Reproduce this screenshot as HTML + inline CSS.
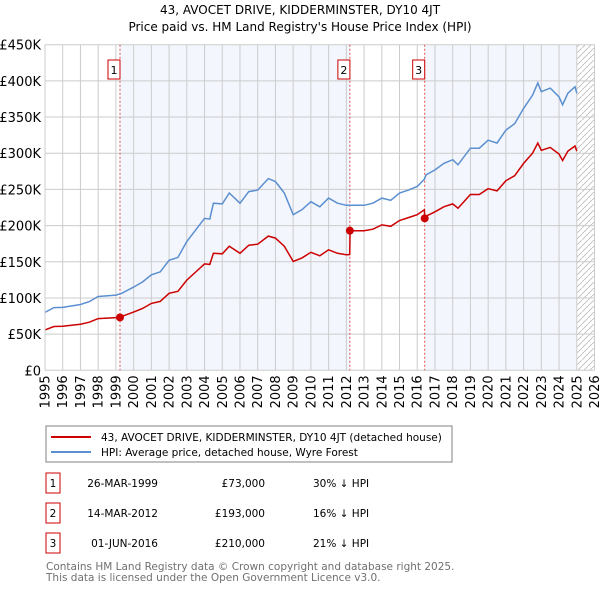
<!DOCTYPE html>
<html><head><meta charset="utf-8"><style>
body{margin:0;background:#fff;font-family:"DejaVu Sans","Liberation Sans",sans-serif;}
svg text{font-family:"DejaVu Sans","Liberation Sans",sans-serif;}
</style></head><body>
<svg id="chart" width="600" height="590" xmlns="http://www.w3.org/2000/svg">
<text x="300" y="14" text-anchor="middle" font-size="12" fill="#000">43, AVOCET DRIVE, KIDDERMINSTER, DY10 4JT</text>
<text x="300" y="31" text-anchor="middle" font-size="12" fill="#000">Price paid vs. HM Land Registry's House Price Index (HPI)</text>
<g id="plot"></g>
<g>
<rect x="46" y="426" width="406" height="36" fill="#fff" stroke="#808080"/>
<line x1="51" y1="437" x2="91" y2="437" stroke="#cc0000" stroke-width="2"/>
<text x="101" y="441" font-size="10.5">43, AVOCET DRIVE, KIDDERMINSTER, DY10 4JT (detached house)</text>
<line x1="51" y1="452" x2="91" y2="452" stroke="#5b8fd0" stroke-width="2"/>
<text x="101" y="456" font-size="10.5">HPI: Average price, detached house, Wyre Forest</text>
</g>
<g id="table"></g>
<text x="46" y="570" font-size="10.5" fill="#707070">Contains HM Land Registry data © Crown copyright and database right 2025.</text>
<text x="46" y="581" font-size="10.5" fill="#707070">This data is licensed under the Open Government Licence v3.0.</text>
</svg>
<script>
const dates=[1995,1995.5,1996,1997,1997.5,1998,1999,1999.3,2000,2000.5,2001,2001.5,2002,2002.5,2003,2003.5,2004,2004.3,2004.5,2005,2005.4,2006,2006.5,2007,2007.6,2008,2008.5,2009,2009.5,2010,2010.5,2011,2011.5,2012,2012.19,2012.21,2012.5,2013,2013.5,2014,2014.5,2015,2015.5,2016,2016.4,2016.43,2016.5,2017,2017.5,2018,2018.3,2019,2019.5,2020,2020.5,2021,2021.5,2022,2022.5,2022.8,2023,2023.5,2024,2024.2,2024.5,2024.9,2025];
const hpi=[80,86.6,87,91,95,102,104,106,115,122,132,136,152,156,178,194,210,209,231,230,245,231,247,249,265,261,245,215,222,233,226,238,231,228,228,228,228,228,231,238,235,245,249,254,264,266,270,277,286,291,284,307,307,318,314,332,341,362,380,397,385,390,378,367,383,392,383];
const price=[55.8,60.6,60.9,63.7,66.5,71.4,72.8,74.2,80.5,85.4,92.4,95.2,106.4,109.2,124.6,135.8,147,146.3,161.7,161,171.5,161.7,172.9,174.3,185.5,182.7,171.5,150.5,155.4,163.1,158.2,166.6,161.7,159.6,160,193,193,193,195,201,199,207,211,215,222,210,213,219,226,230,224,243,243,251,248,262,269,286,300,314,304,308,299,290,303,310,303];
const saleNums=["1","2","3"];
const saleDates=[1999.23,2012.2,2016.42];
const salePrices=[73,193,210];
const saleDateLabels=["26-MAR-1999","14-MAR-2012","01-JUN-2016"];
const salePriceLabels=["£73,000","£193,000","£210,000"];
const saleHpiLabels=["30% ↓ HPI","16% ↓ HPI","21% ↓ HPI"];
const yTicks=[0,50,100,150,200,250,300,350,400,450];
const yTickLabels=["£0","£50K","£100K","£150K","£200K","£250K","£300K","£350K","£400K","£450K"];
const xYears=[1995,1996,1997,1998,1999,2000,2001,2002,2003,2004,2005,2006,2007,2008,2009,2010,2011,2012,2013,2014,2015,2016,2017,2018,2019,2020,2021,2022,2023,2024,2025,2026];

const NS="http://www.w3.org/2000/svg";
const L=45,R=594.5,T=44.7,B=370.3;
const x=v=>L+(v-1995)/(2026-1995)*(R-L);
const y=v=>B-v/450*(B-T);
const plot=document.getElementById('plot');
function mk(tag,attrs,parent){const e=document.createElementNS(NS,tag);for(const k in attrs)e.setAttribute(k,attrs[k]);(parent||plot).appendChild(e);return e;}

let e=mk('rect',{x:x(saleDates[0]),y:T,width:x(saleDates[1])-x(saleDates[0]),height:B-T,fill:'#f3f6fd'});


e=mk('rect',{x:x(saleDates[2]),y:T,width:x(2025)-x(saleDates[2]),height:B-T,fill:'#f3f6fd'});


const defs=mk('defs',{});
const pat=mk('pattern',{id:'hatch',patternUnits:'userSpaceOnUse',width:6,height:6},defs);
mk('path',{d:'M0,6 L6,0',stroke:'#bbb','stroke-width':0.8},pat);
e=mk('rect',{x:x(2025),y:T,width:R-x(2025),height:B-T,fill:'url(#hatch)'});



yTicks.forEach((t,i)=>{
  let g=mk('line',{x1:L,x2:R,y1:y(t),y2:y(t),stroke:'#cccccc','stroke-width':1});
  
  
  let tx=mk('text',{x:L-4,y:y(t)+5,'text-anchor':'end','font-size':13});
  tx.textContent=yTickLabels[i];
  
  
});
xYears.forEach(yr=>{
  let g=mk('line',{x1:x(yr),x2:x(yr),y1:T,y2:B,stroke:'#cccccc','stroke-width':1});
  
  
  let tx=mk('text',{x:0,y:0,'text-anchor':'end','font-size':13,transform:`translate(${x(yr)+4.5},${B+5}) rotate(-90)`});
  tx.textContent=yr;
  
  
});
saleDates.forEach((d,i)=>{
  let v=mk('line',{x1:x(d),x2:x(d),y1:T,y2:B,stroke:'#e05050','stroke-width':1,'stroke-dasharray':'2,2'});
  
  
  let bx=mk('rect',{x:x(d)-12,y:60,width:12,height:19,fill:'#fff',stroke:'#cc0000'});
  
  
  let tx=mk('text',{x:x(d)-6,y:74,'text-anchor':'middle','font-size':11});
  tx.textContent=saleNums[i];
  
  
});
function path(vals){return dates.map((d,i)=>(i?'L':'M')+x(d).toFixed(1)+','+y(vals[i]).toFixed(1)).join(' ');}
let hp=mk('path',{d:path(hpi),fill:'none',stroke:'#5b8fd0','stroke-width':1.5});


let pp=mk('path',{d:path(price),fill:'none',stroke:'#cc0000','stroke-width':1.5});


saleDates.forEach((d,i)=>{
  let c=mk('circle',{cx:x(d),cy:y(salePrices[i]),r:4,fill:'#cc0000'});
  
  
});
let ax=mk('line',{x1:L,x2:L,y1:T,y2:B,stroke:'#cccccc'});



const table=document.getElementById('table');
saleNums.forEach((n,i)=>{
  const yy=487+i*30;
  let b=mk('rect',{x:46,y:yy-14,width:14,height:20,fill:'#fff',stroke:'#cc0000'},table);
  
  
  let t=mk('text',{x:53,y:yy,'text-anchor':'middle','font-size':10.5},table);
  t.textContent=n;
  
  
  t=mk('text',{x:158,y:yy,'text-anchor':'end','font-size':10.5},table);
  t.textContent=saleDateLabels[i];
  
  
  t=mk('text',{x:265,y:yy,'text-anchor':'end','font-size':10.5},table);
  t.textContent=salePriceLabels[i];
  
  
  t=mk('text',{x:313,y:yy,'font-size':10.5},table);
  t.textContent=saleHpiLabels[i];
  
  
});
</script>
</body></html>
